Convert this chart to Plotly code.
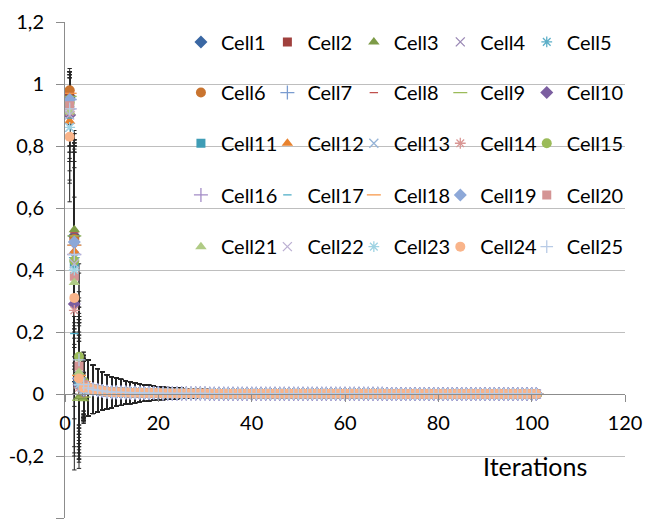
import plotly.graph_objects as go

# ---------------- data ----------------
cell_names = [f"Cell{i}" for i in range(1, 26)]
iterations = list(range(1, 102))

# values for iterations 1..4, one row per cell
head_values = [
    [0.96, 0.51, 0.04, 0.015],
    [0.97, 0.50, 0.03, 0.020],
    [0.96, 0.53, -0.01, -0.015],
    [0.94, 0.47, 0.06, 0.020],
    [0.92, 0.44, 0.03, 0.010],
    [0.98, 0.50, 0.05, 0.030],
    [0.95, 0.48, 0.06, 0.020],
    [0.97, 0.52, 0.02, -0.010],
    [0.96, 0.51, -0.02, -0.010],
    [0.90, 0.29, 0.03, 0.010],
    [0.93, 0.42, 0.04, 0.020],
    [0.88, 0.46, 0.05, 0.030],
    [0.86, 0.44, 0.04, 0.015],
    [0.91, 0.27, 0.02, 0.010],
    [0.94, 0.43, 0.12, 0.040],
    [0.92, 0.45, 0.05, 0.020],
    [0.89, 0.195, 0.03, 0.010],
    [0.97, 0.48, 0.06, 0.040],
    [0.95, 0.49, 0.05, 0.020],
    [0.93, 0.38, 0.09, 0.030],
    [0.91, 0.36, 0.07, 0.025],
    [0.90, 0.42, 0.04, 0.015],
    [0.86, 0.40, 0.03, 0.010],
    [0.83, 0.31, 0.05, 0.020],
    [0.92, 0.45, 0.11, 0.030],
]

# error (std) for iterations 1..4, one row per cell
head_errors = [
    [0.06, 0.30, 0.15, 0.095],
    [0.05, 0.28, 0.14, 0.095],
    [0.08, 0.32, 0.20, 0.080],
    [0.10, 0.35, 0.18, 0.095],
    [0.12, 0.40, 0.22, 0.095],
    [0.04, 0.25, 0.15, 0.095],
    [0.09, 0.33, 0.17, 0.095],
    [0.07, 0.29, 0.16, 0.080],
    [0.08, 0.31, 0.19, 0.080],
    [0.15, 0.49, 0.25, 0.095],
    [0.11, 0.38, 0.21, 0.095],
    [0.16, 0.36, 0.18, 0.095],
    [0.18, 0.40, 0.20, 0.095],
    [0.13, 0.46, 0.26, 0.095],
    [0.10, 0.37, 0.30, 0.095],
    [0.12, 0.36, 0.18, 0.095],
    [0.14, 0.44, 0.23, 0.095],
    [0.06, 0.30, 0.16, 0.095],
    [0.08, 0.33, 0.18, 0.095],
    [0.11, 0.42, 0.24, 0.095],
    [0.13, 0.44, 0.23, 0.095],
    [0.14, 0.38, 0.20, 0.095],
    [0.17, 0.40, 0.22, 0.095],
    [0.21, 0.48, 0.26, 0.095],
    [0.12, 0.37, 0.28, 0.095],
]

# converged region (iterations 5..101): all cells coincide at this scale
tail_values = [
    0.020, 0.015, 0.012, 0.010,
    0.007, 0.006, 0.006, 0.005, 0.005, 0.004, 0.004, 0.004, 0.003, 0.003,
    0.003, 0.003, 0.002, 0.002, 0.002, 0.002, 0.002, 0.002, 0.002, 0.002,
    0.002, 0.002, 0.001, 0.001, 0.001, 0.001, 0.001, 0.001, 0.001, 0.001,
    0.001, 0.001, 0.001, 0.001, 0.001, 0.001, 0.001, 0.001, 0.001, 0.001,
    0.001, 0.001, 0.001, 0.001, 0.001, 0.001, 0.001, 0.001, 0.001, 0.001,
    0.001, 0.001, 0.001, 0.001, 0.001, 0.001, 0.001, 0.001, 0.001, 0.001,
    0.000, 0.000, 0.000, 0.000, 0.000, 0.000, 0.000, 0.000, 0.000, 0.000,
    0.000, 0.000, 0.000, 0.000, 0.000, 0.000, 0.000, 0.000, 0.000, 0.000,
    0.000, 0.000, 0.000, 0.000, 0.000, 0.000, 0.000, 0.000, 0.000, 0.000,
    0.000, 0.000, 0.000,
]
tail_errors = [
    0.090, 0.078, 0.070, 0.062,
    0.055, 0.050, 0.046, 0.042, 0.038, 0.035, 0.032, 0.029, 0.027, 0.025,
    0.023, 0.021, 0.020, 0.019, 0.018, 0.017, 0.016, 0.015, 0.014, 0.014,
    0.013, 0.013, 0.012, 0.012, 0.011, 0.011, 0.011, 0.010, 0.010, 0.010,
    0.010, 0.010, 0.009, 0.009, 0.009, 0.009, 0.009, 0.008, 0.008, 0.008,
    0.008, 0.008, 0.007, 0.007, 0.007, 0.007, 0.007, 0.006, 0.006, 0.006,
    0.006, 0.006, 0.005, 0.005, 0.005, 0.005, 0.005, 0.005, 0.005, 0.005,
    0.005, 0.005, 0.004, 0.004, 0.004, 0.004, 0.004, 0.004, 0.004, 0.004,
    0.004, 0.004, 0.004, 0.004, 0.004, 0.004, 0.004, 0.004, 0.004, 0.004,
    0.004, 0.004, 0.004, 0.004, 0.004, 0.004, 0.004, 0.004, 0.004, 0.004,
    0.004, 0.004, 0.004,
]

y_ticks = [-0.4, -0.2, 0, 0.2, 0.4, 0.6, 0.8, 1, 1.2]
x_ticks = [0, 20, 40, 60, 80, 100, 120]

# ---------------- styles ----------------
colors = [
    "#3A67A3", "#A0403D", "#7D9B47", "#9A88B5", "#5DAFC8",
    "#C9742F", "#7A9CD0", "#C0504D", "#9BBB59", "#7B5EA0",
    "#3F9DB6", "#E8822E", "#95B3D7", "#D99694", "#9BBB59",
    "#A38CC6", "#4BACC6", "#F79646", "#8DA8D8", "#D49494",
    "#B0CB85", "#BCB0D3", "#9FD3E3", "#F9B48A", "#B8CBE6",
]
symbols = [
    "diamond", "square", "triangle-up", "x-thin-open", "asterisk-open",
    "circle", "cross-thin-open", "line-ew-open", "line-ew-open", "diamond",
    "square", "triangle-up", "x-thin-open", "asterisk-open", "circle",
    "cross-thin-open", "line-ew-open", "line-ew-open", "diamond", "square",
    "triangle-up", "x-thin-open", "asterisk-open", "circle", "cross-thin-open",
]
sizes = [
    10, 9, 10, 9, 9,
    10, 10, 6, 10, 10,
    9, 10, 9, 9, 10,
    10, 6, 10, 10, 9,
    10, 9, 9, 10, 9,
]

FONT = "Lato, 'Open Sans', sans-serif"
PLOT_L, PLOT_W, PLOT_T, PLOT_H = 59, 570, 19, 499
col_left_px = [177, 265, 353, 441, 529]
row_center_px = [39, 90, 141, 193, 245]

fig = go.Figure()

# error bars of every cell first (drawn beneath all markers)
for i, name in enumerate(cell_names):
    fig.add_trace(go.Scatter(
        x=iterations, y=head_values[i] + tail_values, mode="markers",
        marker=dict(size=1, opacity=0), showlegend=False, hoverinfo="skip",
        error_y=dict(type="data", array=head_errors[i] + tail_errors,
                     symmetric=True, color="#262626", thickness=1, width=2.2),
    ))

legend_layout = {}
for i, name in enumerate(cell_names):
    is_open = symbols[i].endswith("open")
    key = "legend" if i == 0 else f"legend{i + 1}"
    fig.add_trace(go.Scatter(
        x=iterations, y=head_values[i] + tail_values, name=name, mode="markers",
        marker=dict(symbol=symbols[i], size=sizes[i], color=colors[i],
                    line=dict(color=colors[i], width=1.3 if is_open else 0)),
        legend=key,
    ))
    r, c = divmod(i, 5)
    legend_layout[key] = dict(
        orientation="v", xanchor="left", yanchor="middle",
        x=(col_left_px[c] - PLOT_L) / PLOT_W,
        y=(PLOT_T + PLOT_H - row_center_px[r]) / PLOT_H,
        bgcolor="rgba(0,0,0,0)", borderwidth=0,
        font=dict(family=FONT, size=20, color="#000000"),
        itemclick=False, itemdoubleclick=False,
    )

fig.update_layout(
    width=651, height=527,
    margin=dict(l=PLOT_L, r=651 - PLOT_L - PLOT_W, t=PLOT_T, b=527 - PLOT_T - PLOT_H),
    paper_bgcolor="white", plot_bgcolor="white",
    font=dict(family=FONT, size=20, color="#000000"),
    showlegend=True,
    xaxis=dict(
        range=[0, 120], tickvals=x_ticks, ticktext=[str(v) for v in x_ticks],
        showgrid=False, zeroline=False,
        showline=True, linecolor="#8C8C8C", linewidth=1,
        anchor="free", position=0.25,
        ticks="outside", ticklen=7, tickcolor="#8C8C8C",
        ticklabelstandoff=4,
        tickfont=dict(family=FONT, size=20, color="#000000"),
    ),
    yaxis=dict(
        range=[-0.4, 1.2], tickvals=y_ticks,
        ticktext=[f"{v:g}".replace(".", ",") for v in y_ticks],
        showgrid=True, gridcolor="#BEBEBE", gridwidth=1,
        zeroline=False,
        showline=True, linecolor="#8C8C8C", linewidth=1,
        ticks="outside", ticklen=8, tickcolor="#8C8C8C",
        ticklabelstandoff=8,
        tickfont=dict(family=FONT, size=20, color="#000000"),
    ),
    annotations=[dict(
        text="Iterations", xref="paper", yref="paper",
        x=(592 - PLOT_L) / PLOT_W, y=(PLOT_T + PLOT_H - 466) / PLOT_H,
        xanchor="right", yanchor="middle",
        showarrow=False, font=dict(family=FONT, size=25, color="#000000"),
    )],
    **legend_layout,
)

fig.write_html("out.html")
